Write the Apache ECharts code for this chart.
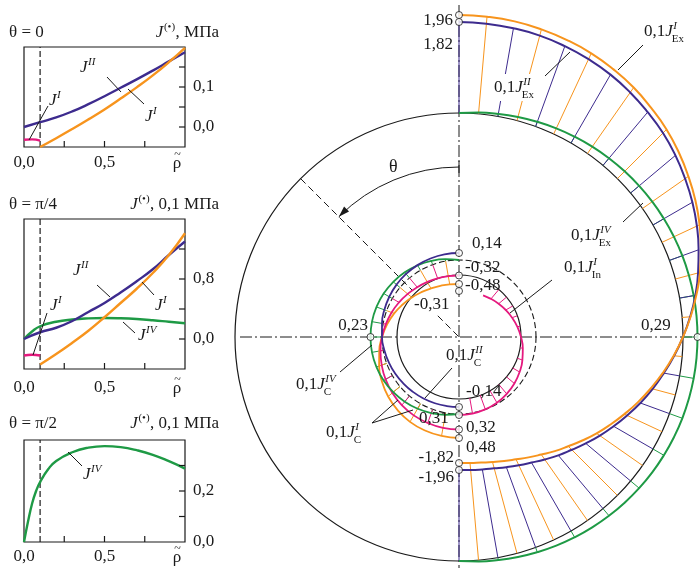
<!DOCTYPE html>
<html>
<head>
<meta charset="utf-8">
<script src="https://cdn.jsdelivr.net/npm/echarts@6/dist/echarts.min.js"></script>
<style>html,body{margin:0;padding:0;background:#fff}#box{width:700px;height:568px}</style>
</head>
<body>
<div id="box"></div>
<script>
// colours
const C_OR = '#f7941d', C_PU = '#3d2b8e', C_GR = '#1e9a45', C_PI = '#e5197e', C_BK = '#1a1a1a';
const FONT = 'Liberation Serif';

// ---------- left plots, J(rho~) ----------
const rho = [0, 0.1, 0.2, 0.3, 0.4, 0.5, 0.6, 0.7, 0.8, 0.9, 1.0];
const rhoI = [0.1, 0.2, 0.3, 0.4, 0.5, 0.6, 0.7, 0.8, 0.9, 1.0];
const rhoIn = [0, 0.05, 0.1];
const rhoIV2 = [0, 0.05, 0.1, 0.2, 0.3, 0.4, 0.5, 0.6, 0.7, 0.8, 0.9, 1.0];
const rhoIV3 = [0, 0.025, 0.05, 0.075, 0.1, 0.15, 0.2, 0.3, 0.4, 0.5, 0.6, 0.7, 0.8, 0.9, 1.0];
const xTicks = [0.25, 0.5, 0.75];

// theta = 0  (MPa)
const t0_JII = [0.0, 0.012, 0.024, 0.039, 0.057, 0.077, 0.098, 0.119, 0.141, 0.164, 0.187];
const t0_JI = [-0.05, -0.028, -0.005, 0.019, 0.044, 0.071, 0.099, 0.129, 0.162, 0.198];
const t0_JIn = [-0.032, -0.031, -0.034];
// theta = pi/4  (0,1 MPa)
const t1_JII = [0.0, 0.09, 0.15, 0.24, 0.36, 0.48, 0.62, 0.77, 0.93, 1.12, 1.30];
const t1_JI = [-0.34, -0.2, -0.05, 0.11, 0.29, 0.48, 0.67, 0.88, 1.12, 1.41];
const t1_JIn = [-0.22, -0.21, -0.22];
const t1_JIV = [0, 0.1, 0.17, 0.23, 0.26, 0.275, 0.28, 0.276, 0.266, 0.25, 0.23, 0.21];
// theta = pi/2  (0,1 MPa)
const t2_JIV = [0, 0.08, 0.15, 0.2, 0.235, 0.285, 0.318, 0.352, 0.37, 0.376, 0.372, 0.36, 0.342, 0.317, 0.288];

// ---------- contour diagram (values are 0,1 J) ----------
// outer contour, angle from top, clockwise over the right side
const thEx = [0, 5, 10, 15, 20, 25, 30, 35, 40, 45, 50, 55, 60, 65, 70, 75, 80, 85, 90,
  95, 100, 105, 110, 115, 120, 125, 130, 135, 140, 145, 150, 155, 160, 165, 170, 175, 180];
const jExI = [1.96, 1.95, 1.93, 1.89, 1.84, 1.78, 1.70, 1.61, 1.50, 1.39, 1.26, 1.12, 0.98, 0.83, 0.67, 0.51, 0.34, 0.17, 0.00,
  -0.17, -0.34, -0.51, -0.67, -0.83, -0.98, -1.12, -1.26, -1.39, -1.50, -1.61, -1.70, -1.78, -1.84, -1.89, -1.93, -1.95, -1.96];
const jExII = [1.82, 1.81, 1.79, 1.76, 1.71, 1.65, 1.58, 1.49, 1.39, 1.29, 1.17, 1.04, 0.91, 0.77, 0.62, 0.47, 0.32, 0.16, 0.00,
  -0.16, -0.32, -0.47, -0.62, -0.77, -0.91, -1.04, -1.17, -1.29, -1.39, -1.49, -1.58, -1.65, -1.71, -1.76, -1.79, -1.81, -1.82];
const jExIV = [0, 0.025, 0.05, 0.075, 0.099, 0.123, 0.145, 0.166, 0.186, 0.205, 0.222, 0.238, 0.251, 0.263, 0.273, 0.280, 0.286, 0.289, 0.29,
  0.289, 0.286, 0.280, 0.273, 0.263, 0.251, 0.238, 0.222, 0.205, 0.186, 0.166, 0.145, 0.123, 0.099, 0.075, 0.05, 0.025, 0];
// inner contour, angle from top, counter-clockwise over the left side
const thC = [0, 10, 20, 30, 40, 50, 60, 70, 80, 90, 100, 110, 120, 130, 140, 150, 160, 170, 180];
const jCI = [-0.48, -0.47, -0.45, -0.42, -0.37, -0.31, -0.24, -0.16, -0.08, 0, 0.08, 0.16, 0.24, 0.31, 0.37, 0.42, 0.45, 0.47, 0.48];
const jCIb = [-0.31, -0.305, -0.29, -0.27, -0.24, -0.20, -0.155, -0.105, -0.055, 0, 0.055, 0.105, 0.155, 0.20, 0.24, 0.27, 0.29, 0.305, 0.31];
const jCII = [0.14, 0.138, 0.13, 0.12, 0.107, 0.09, 0.07, 0.048, 0.024, 0, -0.024, -0.048, -0.07, -0.09, -0.107, -0.12, -0.13, -0.138, -0.14];
const jCIV = [0, 0.04, 0.08, 0.115, 0.148, 0.176, 0.2, 0.216, 0.227, 0.23, 0.227, 0.216, 0.2, 0.176, 0.148, 0.115, 0.08, 0.04, 0];
// inner contour, right side
const jInI = [-0.32, -0.315, -0.30, -0.277, -0.245, -0.206, -0.16, -0.109, -0.056, 0, 0.056, 0.109, 0.16, 0.206, 0.245, 0.277, 0.30, 0.315, 0.32];

// geometry of the diagram (radius units = px)
const K = 50, R_OUT = 224, R_C = 77, R_IN = 62;

const pairs = (xs, ys) => xs.map((x, i) => [x, ys[i]]);
const mctx = document.createElement('canvas').getContext('2d');
function tw(s, size, italic) {
  mctx.font = (italic ? 'italic ' : '') + size + 'px "' + FONT + '"';
  return mctx.measureText(s).width;
}

// ---------- graphic text helpers ----------
const FS = 17;
const G = [];
function txt(x, y, s, o) {
  o = o || {};
  G.push({ type: 'text', x: x, y: y, z: 100, style: {
    text: s, fill: C_BK, align: o.align || 'left', verticalAlign: 'middle',
    font: (o.italic ? 'italic ' : '') + (o.size || FS) + 'px "' + FONT + '"' } });
}
function jLab(x, y, pre, sup, sub, bg) {
  const wp = pre ? tw(pre, FS) : 0, wj = tw('J', FS, true);
  if (bg) G.push({ type: 'rect', z: 99, shape: { x: x - 2, y: y - 14, width: wp + wj + 20, height: 27 }, style: { fill: '#fff' } });
  if (pre) txt(x, y, pre);
  txt(x + wp, y, 'J', { italic: true });
  if (sup) txt(x + wp + wj + 0.5, y - 6, sup, { size: 11, italic: true });
  if (sub) txt(x + wp + wj - 1, y + 7, sub, { size: 11 });
}
function lead(x1, y1, x2, y2, w) {
  G.push({ type: 'line', z: 100, shape: { x1: x1, y1: y1, x2: x2, y2: y2 }, style: { stroke: C_BK, lineWidth: w || 1 } });
}
function header(y, left, unit) {
  txt(9, y, left);
  const wj = tw('J', FS, true), ws = tw('(•)', 11), wu = tw(unit, FS);
  const x0 = 219 - wj - ws - wu - 1;
  txt(x0, y, 'J', { italic: true });
  txt(x0 + wj + 0.5, y - 6, '(•)', { size: 11 });
  txt(x0 + wj + ws + 1, y, unit);
}
function rhoT(y) {
  txt(177, y, 'ρ', { align: 'center' });
  txt(177.5, y - 9, '~', { align: 'center', size: 12 });
}

header(33, 'θ = 0', ', МПа');
header(205, 'θ = π/4', ', 0,1 МПа');
header(424, 'θ = π/2', ', 0,1 МПа');
rhoT(164); rhoT(389); rhoT(558);

jLab(80, 68, '', 'II'); lead(107, 77, 121, 92);
jLab(145, 117, '', 'I'); lead(128, 89, 144, 104);
jLab(49, 101, '', 'I'); lead(48, 106, 29, 140);
jLab(73, 271, '', 'II'); lead(97, 285, 110, 297);
jLab(155, 306, '', 'I'); lead(142, 282, 154, 295);
jLab(50, 306, '', 'I'); lead(47, 313, 33, 355);
jLab(138, 336, '', 'IV'); lead(123, 322, 135, 333);
jLab(83, 475, '', 'IV'); lead(68, 452, 82, 466);

// diagram labels
txt(453, 21, '1,96', { align: 'right' });
txt(453, 45, '1,82', { align: 'right' });
jLab(644, 32, '0,1', 'I', 'Ex'); lead(643, 45, 618, 70);
jLab(494, 88, '0,1', 'II', 'Ex', true); lead(545, 76, 570, 52);
jLab(571, 236, '0,1', 'IV', 'Ex'); lead(623, 222, 643, 203);
txt(389, 167, 'θ', { size: 18 });
txt(472, 244, '0,14');
txt(465, 268, '-0,32');
txt(465, 286, '-0,48');
txt(414, 305, '-0,31');
jLab(564, 268, '0,1', 'I', 'In'); lead(552, 280, 510, 313);
txt(368, 326, '0,23', { align: 'right' });
txt(641, 326, '0,29');
jLab(446, 356, '0,1', 'II', 'C'); lead(452, 368, 425, 398);
txt(466, 392, '-0,14');
jLab(296, 385, '0,1', 'IV', 'C'); lead(340, 372, 372, 345);
txt(419, 419, '0,31');
jLab(326, 433, '0,1', 'I', 'C'); lead(372, 423, 398, 400); lead(372, 423, 413, 410);
txt(466, 428, '0,32');
txt(466, 448, '0,48');
txt(454, 458, '-1,82', { align: 'right' });
txt(454, 478, '-1,96', { align: 'right' });

// ---------- left grids ----------
const grids = [
  { left: 24, top: 47, width: 161, height: 100 },
  { left: 24, top: 219, width: 161, height: 150 },
  { left: 24, top: 440, width: 161, height: 102 }
].map(g => Object.assign(g, { show: true, borderColor: C_BK, borderWidth: 1.2 }));
const yDefs = [
  { min: -0.05, max: 0.2, interval: 0.05, ticks: [0, 0.05, 0.1, 0.15], labels: { '0': '0,0', '0.1': '0,1' } },
  { min: -0.4, max: 1.6, interval: 0.4, ticks: [0, 0.4, 0.8, 1.2], labels: { '0': '0,0', '0.8': '0,8' } },
  { min: 0, max: 0.4, interval: 0.1, ticks: [0.1, 0.2, 0.3], labels: { '0': '0,0', '0.2': '0,2' } }
];
const xMargins = [7, 10, 6];
const lab = { fontFamily: FONT, fontSize: FS, color: C_BK };
const xAxes = grids.map((g, i) => ({
  gridIndex: i, type: 'value', min: 0, max: 1, interval: 0.25, position: 'bottom',
  axisLine: { show: false, onZero: false }, splitLine: { show: false }, axisTick: { show: false },
  axisLabel: Object.assign({ margin: xMargins[i],
    formatter: v => (Math.abs(v) < 1e-9 ? '0,0' : Math.abs(v - 0.5) < 1e-9 ? '0,5' : '') }, lab)
}));
const yAxes = yDefs.map((d, i) => ({
  gridIndex: i, type: 'value', position: 'right', min: d.min, max: d.max, interval: d.interval,
  axisLine: { show: false, onZero: false }, splitLine: { show: false }, axisTick: { show: false },
  axisLabel: Object.assign({ margin: 8,
    formatter: v => d.labels[String(Math.round(v * 100) / 100)] || '' }, lab)
}));

function cLine(gi, data, color, w) {
  return { type: 'line', xAxisIndex: gi, yAxisIndex: gi, data: data, smooth: true, showSymbol: false,
    silent: true, lineStyle: { color: color, width: w || 2.4 }, z: 3 };
}
function cDash(gi) {
  const d = yDefs[gi];
  return { type: 'line', xAxisIndex: gi, yAxisIndex: gi, data: [[0.1, d.min], [0.1, d.max]], showSymbol: false,
    silent: true, lineStyle: { color: C_BK, width: 1.2, type: [6, 3] }, z: 2 };
}

// ---------- polar helpers ----------
function seg(items, color, w, dash, z) {
  return { type: 'custom', coordinateSystem: 'polar', silent: true, z: z || 2, data: items,
    renderItem: (p, api) => {
      const a = api.coord([api.value(0), api.value(1)]), b = api.coord([api.value(2), api.value(3)]);
      return { type: 'line', shape: { x1: a[0], y1: a[1], x2: b[0], y2: b[1] },
        style: { stroke: color, lineWidth: w, lineDash: dash || null } };
    } };
}
function ring(r, w, dash) {
  return { type: 'custom', coordinateSystem: 'polar', silent: true, z: 1, data: [[r, 0]],
    renderItem: (p, api) => {
      const c = api.coord([0, 0]), e = api.coord([api.value(0), 90]);
      return { type: 'circle', shape: { cx: c[0], cy: c[1], r: e[0] - c[0] },
        style: { fill: 'none', stroke: C_BK, lineWidth: w, lineDash: dash || null } };
    } };
}
const ang = (t, mirror) => (mirror ? 360 - t : t);
function pCurve(r0, th, vals, color, w, mirror, from) {
  const d = th.map((t, i) => [r0 + K * vals[i], ang(t, mirror)]).slice(from || 0);
  return { type: 'line', coordinateSystem: 'polar', data: d, smooth: true, showSymbol: false, silent: true,
    lineStyle: { color: color, width: w }, z: 4 };
}
function pHatch(r0, th, vals, idx, color, w, mirror) {
  return seg(idx.map(i => [r0, ang(th[i], mirror), r0 + K * vals[i], ang(th[i], mirror)]), color, w, null, 3);
}
const range = (a, b, s) => { const o = []; for (let i = a; i <= b; i += s) o.push(i); return o; };

// theta arc with arrow
const thetaArc = { type: 'custom', coordinateSystem: 'polar', silent: true, z: 2, data: [[170, 0]],
  renderItem: (p, api) => {
    const c = api.coord([0, 0]), r = api.value(0), a = -3 * Math.PI / 4;
    const P = [c[0] + r * Math.cos(a), c[1] + r * Math.sin(a)];
    const d = [Math.sin(a), -Math.cos(a)], n = [-d[1], d[0]];
    const B = [P[0] - 11 * d[0], P[1] - 11 * d[1]];
    return { type: 'group', children: [
      { type: 'arc', shape: { cx: c[0], cy: c[1], r: r, startAngle: -Math.PI / 2, endAngle: a, clockwise: false },
        style: { fill: 'none', stroke: C_BK, lineWidth: 1 } },
      { type: 'polygon', shape: { points: [P, [B[0] + 3.5 * n[0], B[1] + 3.5 * n[1]], [B[0] - 3.5 * n[0], B[1] - 3.5 * n[1]]] },
        style: { fill: C_BK } },
      { type: 'line', shape: { x1: c[0], y1: c[1] - r - 6, x2: c[0], y2: c[1] - r + 6 }, style: { stroke: C_BK, lineWidth: 1 } }
    ] };
  } };

const last = thEx.length - 1, lastC = thC.length - 1;
const markers = [
  [R_OUT + K * jExI[0], 0], [R_OUT + K * jExII[0], 0],
  [R_OUT + K * jExI[last], 180], [R_OUT + K * jExII[last], 180],
  [R_OUT + K * jExIV[18], 90],
  [R_C + K * jCIV[9], 270],
  [R_C + K * jCII[0], 0], [R_C + K * jCIb[0], 0], [R_C + K * jCI[0], 0], [R_IN + K * jInI[0], 0],
  [R_C + K * jCII[lastC], 180], [R_IN + K * jInI[lastC], 180], [R_C + K * jCIb[lastC], 180], [R_C + K * jCI[lastC], 180]
];

const series = [
  cDash(0), cDash(1), cDash(2),
  cLine(0, pairs(rho, t0_JII), C_PU), cLine(0, pairs(rhoI, t0_JI), C_OR), cLine(0, pairs(rhoIn, t0_JIn), C_PI),
  cLine(1, pairs(rhoIV2, t1_JIV), C_GR), cLine(1, pairs(rho, t1_JII), C_PU), cLine(1, pairs(rhoI, t1_JI), C_OR),
  cLine(1, pairs(rhoIn, t1_JIn), C_PI),
  cLine(2, pairs(rhoIV3, t2_JIV), C_GR),
  // diagram frame
  ring(R_OUT, 1.2), ring(R_IN, 1.2), ring(R_C, 1.1, [6, 3]),
  seg([[332, 0, 231, 180], [219, 270, 245, 90]], C_BK, 1, [12, 3, 2, 3], 1),
  seg([[R_OUT, 315, 65, 315], [30, 315, 0, 315]], C_BK, 1, [7, 4], 1),
  thetaArc,
  // hatching
  pHatch(R_OUT, thEx, jExIV, range(2, 34, 2), C_GR, 1),
  pHatch(R_OUT, thEx, jExII, range(0, 36, 2), C_PU, 1),
  pHatch(R_OUT, thEx, jExI, range(1, 35, 2), C_OR, 1),
  pHatch(R_C, thC, jCIV, range(1, 17, 1), C_GR, 1, true),
  pHatch(R_C, thC, jCI, range(1, 17, 2), C_OR, 1, true),
  pHatch(R_C, thC, jCIb, range(2, 16, 2), C_PI, 1, true),
  pHatch(R_IN, thC, jInI, range(4, 17, 1), C_PI, 1),
  // curves
  pCurve(R_OUT, thEx, jExIV, C_GR, 2),
  pCurve(R_OUT, thEx, jExII, C_PU, 2),
  pCurve(R_OUT, thEx, jExI, C_OR, 2),
  pCurve(R_C, thC, jCI, C_OR, 1.8, true),
  pCurve(R_C, thC, jCIb, C_PI, 1.8, true),
  pCurve(R_C, thC, jCIV, C_GR, 1.8, true),
  pCurve(R_C, thC, jCII, C_PU, 1.8, true),
  pCurve(R_IN, thC, jInI, C_PI, 1.8, false, 3),
  { type: 'scatter', coordinateSystem: 'polar', data: markers, symbol: 'circle', symbolSize: 7, silent: true, z: 6,
    itemStyle: { color: '#fff', borderColor: C_BK, borderWidth: 1 } }
];

const chart = echarts.init(document.getElementById('box'));
chart.setOption({
  animation: false,
  backgroundColor: '#fff',
  grid: grids,
  xAxis: xAxes,
  yAxis: yAxes,
  polar: { center: [459, 337], radius: 340 },
  angleAxis: { type: 'value', min: 0, max: 360, startAngle: 90, clockwise: true, show: false },
  radiusAxis: { type: 'value', min: 0, max: 340, show: false },
  series: series,
  graphic: G
});

// inward tick marks on the bottom and right frame edges, placed through each grid's scales
yDefs.forEach((d, gi) => {
  xTicks.forEach(v => {
    const q = chart.convertToPixel({ gridIndex: gi }, [v, d.min]);
    lead(q[0], q[1], q[0], q[1] - 6, 1.2);
  });
  d.ticks.forEach(v => {
    const q = chart.convertToPixel({ gridIndex: gi }, [1, v]);
    lead(q[0], q[1], q[0] - 6, q[1], 1.2);
  });
});
chart.setOption({ graphic: G });
</script>
</body>
</html>
